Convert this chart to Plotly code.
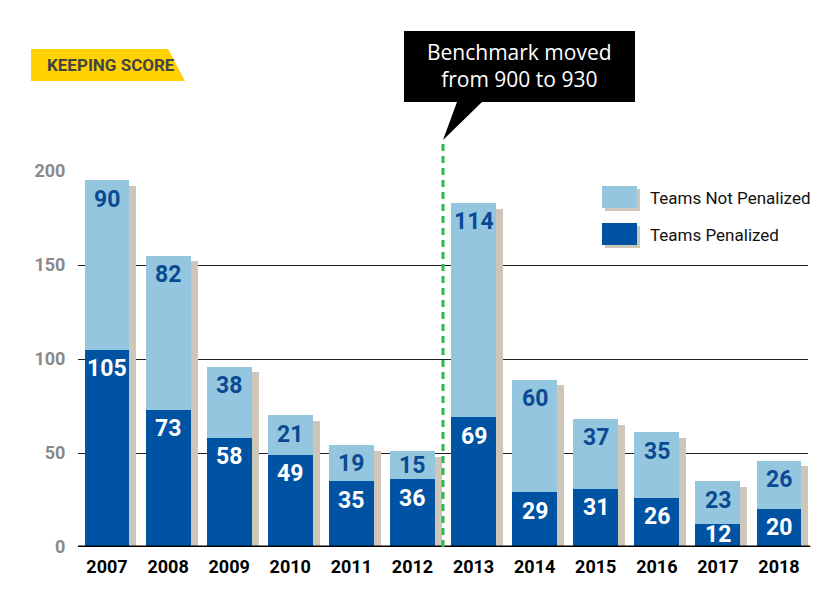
import plotly.graph_objects as go

years = ["2007", "2008", "2009", "2010", "2011", "2012",
         "2013", "2014", "2015", "2016", "2017", "2018"]
penalized = [105, 73, 58, 49, 35, 36, 69, 29, 31, 26, 12, 20]
not_penalized = [90, 82, 38, 21, 19, 15, 114, 60, 37, 35, 23, 26]
y_ticks = [0, 50, 100, 150, 200]

LIGHT = "#94c6e0"
DARK = "#0052a3"
SHADOW = "#cfc6ba"
LABEL_DARK = "#0b4a93"
COND = "Roboto, sans-serif"

OFF = 8  # page body margin
W, H = 840, 600
L, R, T, B = 78 - OFF, 808 - OFF, 171 - OFF, 547 - OFF  # plot area in pixels


def px(x):
    return (x - OFF - L) / (R - L)


def py(y):
    return (B - (y - OFF)) / (B - T)


idx = list(range(len(years)))
totals = [p + n for p, n in zip(penalized, not_penalized)]
bw = 0.735

fig = go.Figure()
fig.add_trace(go.Bar(x=idx, y=[t - 3 for t in totals], width=bw, offset=-bw / 2 + 0.115,
                     marker=dict(color=SHADOW, line=dict(width=0)), hoverinfo="skip",
                     showlegend=False))
fig.add_trace(go.Bar(x=idx, y=penalized, width=bw, offset=-bw / 2, name="Teams Penalized",
                     marker=dict(color=DARK, line=dict(width=0)), showlegend=False))
fig.add_trace(go.Bar(x=idx, y=not_penalized, base=penalized, width=bw, offset=-bw / 2,
                     name="Teams Not Penalized",
                     marker=dict(color=LIGHT, line=dict(width=0)), showlegend=False))

ann = []
for i in idx:
    p, n = penalized[i], not_penalized[i]
    yl = max(p - 10, p / 2 + 0.5)
    ann.append(dict(x=i, y=yl, xref="x", yref="y", text=f"<b>{p}</b>", showarrow=False,
                    font=dict(family=COND, size=23, color="white"), yanchor="middle"))
    top = p + n
    yl2 = max(top - 10, p + n / 2)
    ann.append(dict(x=i, y=yl2, xref="x", yref="y", text=f"<b>{n}</b>", showarrow=False,
                    font=dict(family=COND, size=23, color=LABEL_DARK), yanchor="middle"))

# callout text
ann.append(dict(x=px(519), y=py(66), xref="paper", yref="paper",
                text="Benchmark moved<br>from 900 to 930", showarrow=False,
                font=dict(family="Open Sans, sans-serif", size=21, color="white"),
                align="center", xanchor="center", yanchor="middle"))
# tag text
ann.append(dict(x=px(45), y=py(65), xref="paper", yref="paper", text="<b>KEEPING SCORE</b>",
                showarrow=False, font=dict(family=COND, size=17, color="#444444"),
                xanchor="left", yanchor="middle"))
# legend text
ann.append(dict(x=px(648), y=py(198), xref="paper", yref="paper", text="Teams Not Penalized",
                showarrow=False, font=dict(family=COND, size=17, color="#111111"),
                xanchor="left", yanchor="middle"))
ann.append(dict(x=px(648), y=py(235), xref="paper", yref="paper", text="Teams Penalized",
                showarrow=False, font=dict(family=COND, size=17, color="#111111"),
                xanchor="left", yanchor="middle"))


def poly(points):
    return "M " + " L ".join(f"{px(a)},{py(b)}" for a, b in points) + " Z"


shapes = [
    # zero line
    dict(type="line", xref="paper", yref="y", x0=0, x1=1.003, y0=0, y1=0,
         line=dict(color="black", width=3), layer="above"),
    # benchmark dashed line
    dict(type="line", xref="x", yref="paper", x0=5.5, x1=5.5, y0=0, y1=py(140),
         line=dict(color="#2db84a", width=3, dash="7px,5px"), layer="above"),
    # callout box
    dict(type="path", xref="paper", yref="paper",
         path=poly([(404, 31), (635, 31), (635, 102), (482, 102), (443, 140),
                    (457, 102), (404, 102)]),
         fillcolor="black", line=dict(width=0), layer="above"),
    # tag
    dict(type="path", xref="paper", yref="paper",
         path=poly([(31, 49), (168, 49), (185, 81), (31, 81)]),
         fillcolor="#ffd200", line=dict(width=0), layer="above"),
    # legend swatches with shadows
    dict(type="rect", xref="paper", yref="paper", x0=px(605), x1=px(640), y0=py(189), y1=py(211),
         fillcolor=SHADOW, line=dict(width=0), layer="above"),
    dict(type="rect", xref="paper", yref="paper", x0=px(602), x1=px(637), y0=py(186), y1=py(208),
         fillcolor=LIGHT, line=dict(width=0), layer="above"),
    dict(type="rect", xref="paper", yref="paper", x0=px(605), x1=px(640), y0=py(226), y1=py(248),
         fillcolor=SHADOW, line=dict(width=0), layer="above"),
    dict(type="rect", xref="paper", yref="paper", x0=px(602), x1=px(637), y0=py(223), y1=py(245),
         fillcolor=DARK, line=dict(width=0), layer="above"),
]

fig.update_layout(
    width=W, height=H,
    margin=dict(l=L, r=W - R, t=T, b=H - B, pad=0),
    paper_bgcolor="white", plot_bgcolor="white",
    barmode="overlay", bargap=0,
    showlegend=False,
    annotations=ann, shapes=shapes,
    xaxis=dict(range=[-0.475, 11.475], tickvals=idx, ticktext=years,
               tickfont=dict(family=COND, size=18, color="black", weight="bold"),
               showgrid=False, zeroline=False, showline=False,
               ticks="outside", ticklen=3, tickcolor="rgba(0,0,0,0)", fixedrange=True),
    yaxis=dict(range=[0, 200], tickvals=y_ticks,
               tickfont=dict(family=COND, size=18, color="#8a8a8a", weight="bold"),
               showgrid=True, gridcolor="#222222", gridwidth=1, zeroline=False,
               showline=False, ticks="outside", ticklen=8, tickcolor="rgba(0,0,0,0)",
               fixedrange=True),
)

fig.write_html("out.html", config={"displayModeBar": False})
